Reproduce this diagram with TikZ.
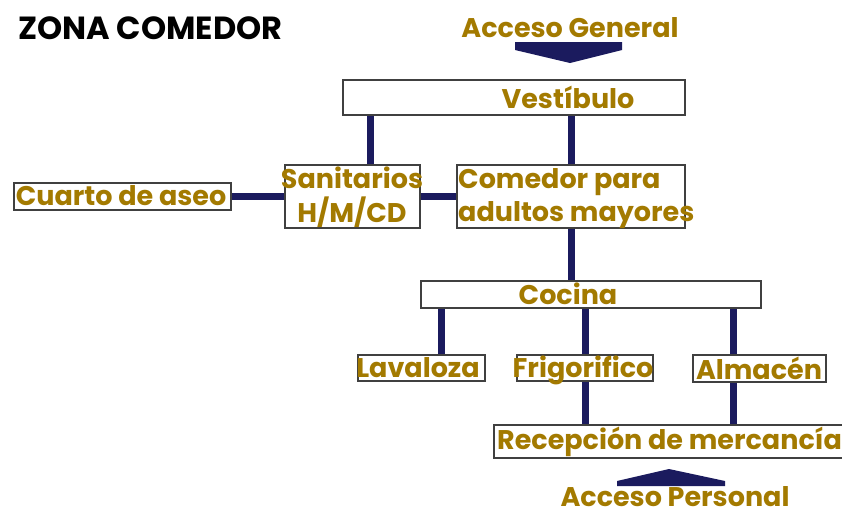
\documentclass[tikz,border=0pt]{standalone}
\usepackage{fontspec}
\setmainfont{Poppins}
\definecolor{gold}{HTML}{A37A00}
\definecolor{navy}{HTML}{1B1B5E}
\definecolor{boxgray}{HTML}{404040}
\begin{document}
\begin{tikzpicture}[x=1pt,y=-1pt,
  box/.style={draw=boxgray,line width=1.3pt,fill=white,inner sep=0pt},
  lbl/.style={text=gold,font=\fontsize{27}{29}\selectfont\bfseries,inner sep=0pt,anchor=base},
  conn/.style={navy,line width=7pt}]
\useasboundingbox (0,0) rectangle (842,517);
\begin{scope}
\clip (0,0) rectangle (842,517);
% boxes
\node[box,minimum width=342pt,minimum height=35pt] (vest) at (514,97.5) {};
\node[box,minimum width=135pt,minimum height=63pt] (san) at (352.5,196.5) {};
\node[box,minimum width=228pt,minimum height=63pt] (com) at (571,196.5) {};
\node[box,minimum width=217pt,minimum height=27pt] (cuarto) at (122.5,196.5) {};
\node[box,minimum width=340pt,minimum height=27pt] (cocina) at (591,294.5) {};
\node[box,minimum width=127pt,minimum height=26pt] (lava) at (421.5,368) {};
\node[box,minimum width=136pt,minimum height=26pt] (frig) at (585,368) {};
\node[box,minimum width=133pt,minimum height=27pt] (alm) at (759.5,368.5) {};
\node[box,minimum width=351pt,minimum height=33pt] (recep) at (669.5,441.5) {};
% connectors
\draw[conn] ([xshift=17.5pt]san.north) -- ([xshift=17.5pt]san.north |- vest.south);
\draw[conn] (com.north) -- (com.north |- vest.south);
\draw[conn] (cuarto.east) -- (cuarto.east -| san.west);
\draw[conn] (san.east) -- (san.east -| com.west);
\draw[conn] (com.south) -- (com.south |- cocina.north);
\draw[conn] ([xshift=19.5pt]lava.north) -- ([xshift=19.5pt]lava.north |- cocina.south);
\draw[conn] (frig.north) -- (frig.north |- cocina.south);
\draw[conn] ([xshift=-26.5pt]alm.north) -- ([xshift=-26.5pt]alm.north |- cocina.south);
\draw[conn] (frig.south) -- (frig.south |- recep.north);
\draw[conn] ([xshift=-26.5pt]alm.south) -- ([xshift=-26.5pt]alm.south |- recep.north);
% labels
\node[lbl] (tvest) at (568,108) {Vestíbulo};
\node[lbl] (tsan1) at (352,188) {Sanitarios};
\node[lbl] (tsan2) at (352,222) {H/M/CD};
\node[lbl,anchor=base west] (tcom1) at (458,188) {Comedor para};
\node[lbl,anchor=base west] (tcom2) at (458,221) {adultos mayores};
\node[lbl] (tcuarto) at (121,205) {Cuarto de aseo};
\node[lbl] (tcocina) at (568,304) {Cocina};
\node[lbl] (tlava) at (418,377) {Lavaloza};
\node[lbl] (tfrig) at (583,377) {Frigorifico};
\node[lbl] (talm) at (759,379) {Almacén};
\node[lbl,anchor=base west] (trecep) at (497,449) {Recepción de mercancía};
\node[lbl] (tag) at (570,37) {Acceso General};
\node[lbl] (tap) at (675,506) {Acceso Personal};
\node[text=black,font=\fontsize{32}{34}\selectfont\bfseries,inner sep=0pt,anchor=base west] (title) at (18,39) {ZONA COMEDOR};
% access arrows
\fill[navy] (515,42) -- (622,42) -- (622,50) -- (570,63) -- (515,50) -- cycle;
\fill[navy] (617,486) -- (725,486) -- (725,481) -- (669,469) -- (617,481) -- cycle;
\end{scope}
\end{tikzpicture}
\end{document}
